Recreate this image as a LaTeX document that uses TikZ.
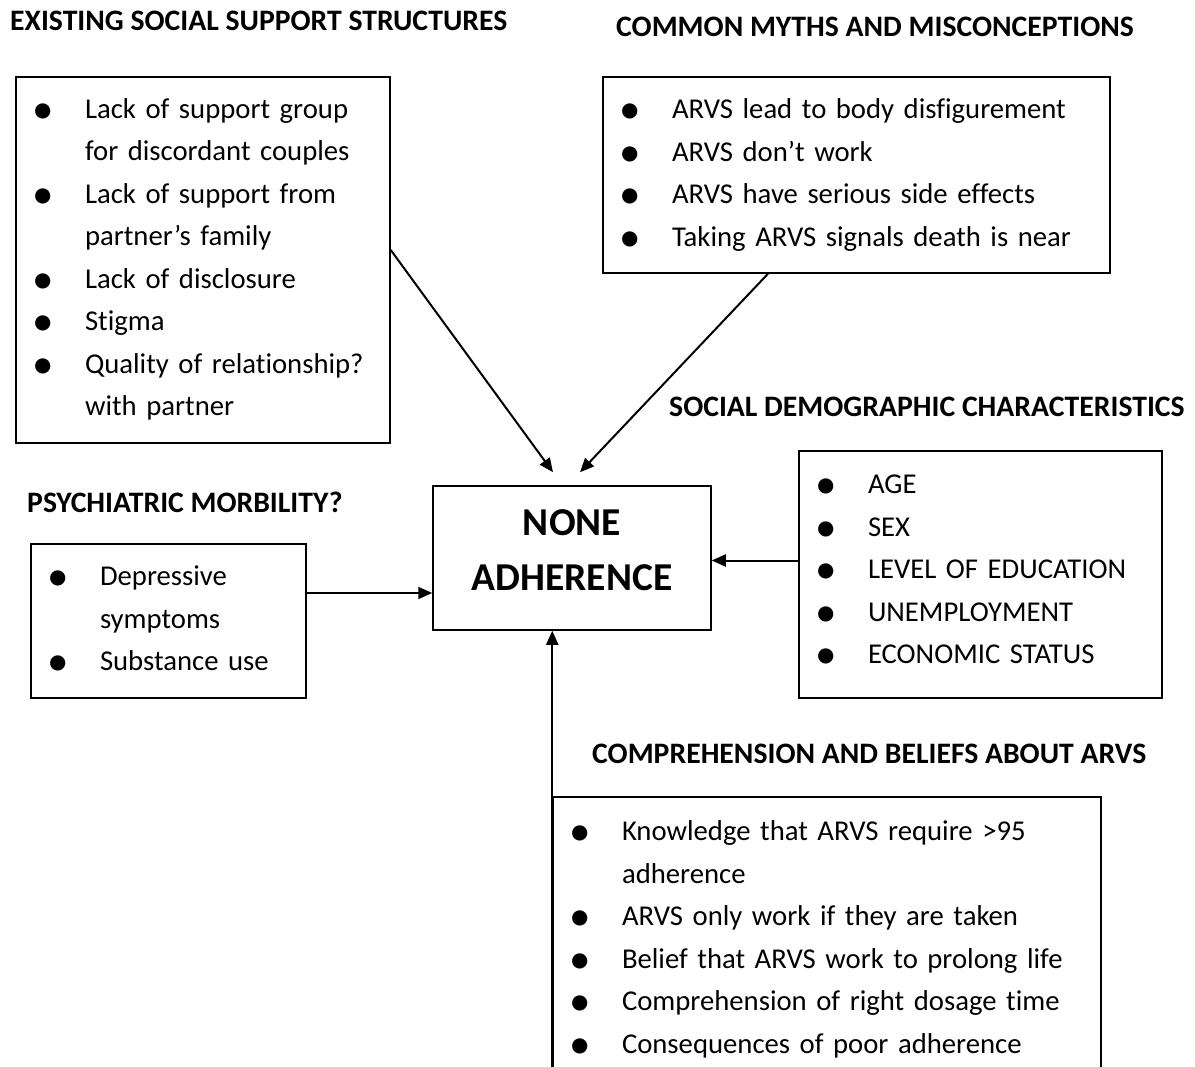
\documentclass[tikz,border=0pt]{standalone}
\usepackage{fontspec}
\setmainfont{Carlito}[Ligatures=CommonOff, Contextuals=AlternateOff]
\usetikzlibrary{positioning, arrows.meta}

% bullet and hanging indent for the lists
\newcommand{\bul}{\makebox[63pt][l]{\hspace{10pt}\raisebox{-5pt}{\fontsize{43}{43}\selectfont •}}}
\newcommand{\ind}{\hspace*{63pt}}

\begin{document}
\begin{tikzpicture}[
    x=1pt, y=-1pt,
    box/.style={draw, line width=1.5pt, rectangle, align=left, inner xsep=6pt, inner ysep=0pt, font=\fontsize{28.7}{42.5}\selectfont},
    head/.style={font=\bfseries\fontsize{29.7}{34}\selectfont, inner sep=0pt, anchor=west},
    arrow/.style={-{Triangle[length=14pt, width=12pt]}, line width=2pt}
]
\useasboundingbox (0,0) rectangle (1195,1067);

% Headings
\node[head] (hsupport) at (10,21) {EXISTING SOCIAL SUPPORT STRUCTURES};
\node[head] (hmyths) at (616,27) {COMMON MYTHS AND MISCONCEPTIONS};
\node[head] (hdemog) at (669,407) {SOCIAL DEMOGRAPHIC CHARACTERISTICS};
\node[head] (hpsych) at (27,502) {PSYCHIATRIC MORBILITY?};
\node[head] (hcompr) at (592,754) {COMPREHENSION AND BELIEFS ABOUT ARVS};

% Boxes
\node[box, minimum width=374pt, minimum height=366pt, text width=362pt] (support) at (203,260) {%
\bul Lack of support group\\
\ind for discordant couples\\
\bul Lack of support from\\
\ind partner’s family\\
\bul Lack of disclosure\\
\bul Stigma\\
\bul Quality of relationship?\\
\ind with partner\rule[-6pt]{0pt}{0pt}};
\node[box, minimum width=507pt, minimum height=196pt, text width=495pt] (myths) at (856.5,175) {%
\bul ARVS lead to body disfigurement\\
\bul ARVS don’t work\\
\bul ARVS have serious side effects\\
\bul Taking ARVS signals death is near};
\node[box, minimum width=275pt, minimum height=154pt, text width=263pt] (psych) at (168.5,621) {%
\bul Depressive\\
\ind symptoms\\
\bul Substance use};
\node[box, minimum width=363pt, minimum height=247pt, text width=351pt] (demog) at (980.5,574.5) {%
\bul AGE\\
\bul SEX\\
\bul LEVEL OF EDUCATION\\
\bul UNEMPLOYMENT\\
\bul ECONOMIC STATUS\rule[-10pt]{0pt}{0pt}};
\node[box, minimum width=548pt, minimum height=286pt, text width=536pt] (compr) at (827,940) {%
\bul Knowledge that ARVS require >95\\
\ind adherence\\
\bul ARVS only work if they are taken\\
\bul Belief that ARVS work to prolong life\\
\bul Comprehension of right dosage time\\
\bul Consequences of poor adherence\rule[-6pt]{0pt}{0pt}};
\node[box, align=center, font=\bfseries\fontsize{39.5}{55}\selectfont, minimum width=278pt, minimum height=144pt] (core) at (572,558) {NONE\\ADHERENCE\rule[-16pt]{0pt}{0pt}};

% Arrows into the core box
\draw[arrow] ([yshift=10pt]support.east) -- ([xshift=-19pt, yshift=13pt]core.north);
\draw[arrow] ([xshift=-88.5pt]myths.south) -- ([xshift=8pt, yshift=13pt]core.north);
\draw[arrow] ([yshift=28pt]psych.east) -- ([yshift=28pt]psych.east -| core.west);
\draw[arrow] ([yshift=14pt]demog.west) -- ([yshift=14pt]demog.west -| core.east);
\draw[arrow] (compr.south west) -- (compr.south west |- core.south);

\end{tikzpicture}
\end{document}
